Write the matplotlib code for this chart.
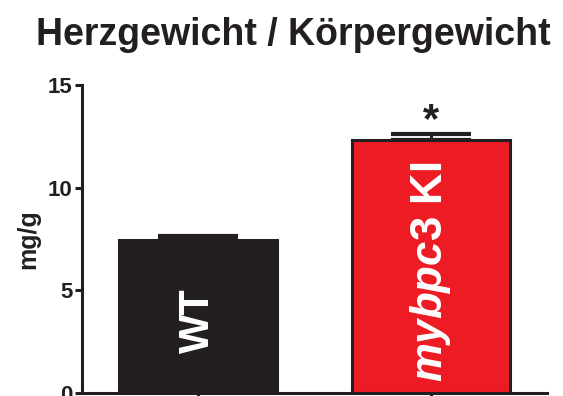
import matplotlib
matplotlib.use('Agg')
import matplotlib.pyplot as plt

# data: heart weight / body weight
groups = ['WT', 'mybpc3 KI']
means = [7.45, 12.3]
sem = [0.2, 0.3]
sig = [None, '*']

ink = '#231f20'
red = '#ed1c24'

plt.rcParams['font.family'] = 'Liberation Sans'
plt.rcParams['font.weight'] = 'bold'
plt.rcParams['mathtext.fontset'] = 'custom'
plt.rcParams['mathtext.rm'] = 'Liberation Sans:bold'
plt.rcParams['mathtext.it'] = 'Liberation Sans:italic:bold'

fig = plt.figure(figsize=(5.63, 3.96), dpi=100)
ax = fig.add_axes([0.1456, 0.0076, 0.826, 0.7778])

x = list(range(len(groups)))
ax.bar(x, means, width=0.68, color=[ink, red], edgecolor=ink,
       linewidth=2.2, zorder=3)
ax.errorbar(x, means, yerr=[[0] * len(sem), sem], fmt='none', ecolor=ink,
            elinewidth=2.2, capsize=29, capthick=3, zorder=2)

# labels inside the bars
ax.text(x[0], 1.95, 'WT', rotation=90, ha='center', va='bottom',
        color='white', fontsize=30, fontweight='bold', zorder=4)
ax.text(x[1], 0.55, r'$\mathit{mybpc3}$ $\mathrm{KI}$', rotation=90,
        ha='center', va='bottom', color='white', fontsize=31.5, zorder=4)

for xi, m, e, s in zip(x, means, sem, sig):
    if s:
        ax.text(xi, m + e - 0.35, s, ha='center', va='bottom', color=ink,
                fontsize=30, fontweight='bold')

ax.set_xlim(-0.5, 1.5)
ax.set_ylim(0, 15)
ax.set_yticks([0, 5, 10, 15])
ax.set_xticks(x)
ax.set_xticklabels([])
ax.tick_params(axis='y', labelsize=16, width=2.2, length=5, color=ink,
               labelcolor=ink, pad=2)
ax.tick_params(axis='x', width=2.2, length=5, color=ink)
for side in ['top', 'right']:
    ax.spines[side].set_visible(False)
for side in ['left', 'bottom']:
    ax.spines[side].set_linewidth(2.2)
    ax.spines[side].set_color(ink)

ax.set_ylabel('mg/g', fontsize=18, fontweight='bold', color=ink, labelpad=5)
fig.text(293 / 563, 1 - 35 / 396, 'Herzgewicht / Körpergewicht',
         ha='center', va='center', fontsize=27, fontweight='bold', color=ink)

fig.savefig('out.png', dpi=100)
